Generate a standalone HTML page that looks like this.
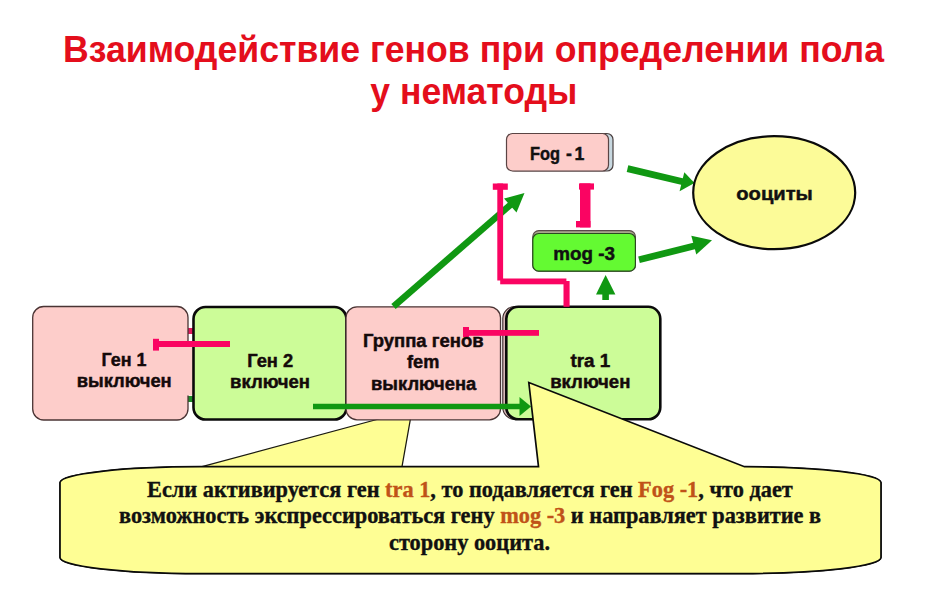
<!DOCTYPE html>
<html><head><meta charset="utf-8">
<style>
html,body{margin:0;padding:0;background:#fff;width:932px;height:600px;overflow:hidden}
svg{display:block}
.t{font-family:"Liberation Sans",sans-serif;font-weight:bold}
.s{font-family:"Liberation Serif",serif;font-weight:bold}
</style></head><body>
<svg width="932" height="600" viewBox="0 0 932 600">
<rect width="932" height="600" fill="#fff"/>
<!-- title -->
<text class="t" x="63" y="61.5" font-size="37" fill="#e40e1c" textLength="821" lengthAdjust="spacingAndGlyphs">Взаимодействие генов при определении пола</text>
<text class="t" x="370.3" y="104.2" font-size="37" fill="#e40e1c" textLength="207" lengthAdjust="spacingAndGlyphs">у нематоды</text>

<!-- hidden connectors between box1 & box2 -->
<rect x="185" y="328" width="10" height="6" fill="#e01a5e"/>
<rect x="185" y="396" width="10" height="6" fill="#1e8a2a"/>

<!-- callout 1 (pointer to box 3) -->
<path d="M60,482.5 A140,16 0 0 1 200,466.7 L202,466.7 L412,410 L402,466.7 L740,466.7 A140,16 0 0 1 881,482.5 L881,557.5 A140,16 0 0 1 741,573.6 L200,573.6 A140,16 0 0 1 60,557.5 Z" fill="#fefe94" stroke="#1a1a10" stroke-width="1.25"/>

<!-- box 1 -->
<rect x="32.7" y="306.5" width="155.3" height="113.5" rx="11" ry="11" fill="#fdcdca" stroke="#4a3434" stroke-width="1.3"/>
<rect x="186" y="347" width="8" height="48.5" fill="#fdcdca"/>
<!-- box 2 -->
<rect x="193.5" y="307" width="152.9" height="112.5" rx="12" ry="12" fill="#ccfc98" stroke="#0a0a0a" stroke-width="2.6"/>
<!-- box 3 -->
<rect x="346" y="306.8" width="154.5" height="113" rx="11" ry="11" fill="#fdcdca" stroke="#4a3434" stroke-width="1.3"/>
<!-- box 4 shadow + box -->
<rect x="502.8" y="306.5" width="154" height="113" rx="12" ry="12" fill="#d8b8b8" stroke="#3a2a2a" stroke-width="1.1"/>
<rect x="506.3" y="306.8" width="154" height="112.5" rx="12" ry="12" fill="#ccfc98" stroke="#0a0a0a" stroke-width="2.6"/>

<!-- green arrow along bottom of boxes -->
<line x1="313" y1="406.5" x2="522" y2="406.5" stroke="#109812" stroke-width="5.6"/>
<polygon points="519.5,397 531,406.5 519.5,416" fill="#109812"/>

<!-- pink inhibitors on boxes -->
<rect x="153" y="341" width="77" height="6" fill="#fa0462"/>
<rect x="153" y="338.8" width="6" height="11.8" fill="#fa0462"/>
<rect x="463" y="330" width="76" height="5.8" fill="#fa0462"/>
<rect x="463" y="327" width="6" height="10" fill="#fa0462"/>

<!-- box texts -->
<g class="t" font-size="18" fill="#140a0a" stroke="#140a0a" stroke-width="0.45">
<text x="101.6" y="365.8" textLength="45" lengthAdjust="spacingAndGlyphs">Ген 1</text>
<text x="76.7" y="387.4" textLength="95" lengthAdjust="spacingAndGlyphs">выключен</text>
<text x="247.2" y="366.5" textLength="46" lengthAdjust="spacingAndGlyphs">Ген 2</text>
<text x="230" y="388" textLength="80" lengthAdjust="spacingAndGlyphs">включен</text>
<text x="362.9" y="347.2" textLength="120.7" lengthAdjust="spacingAndGlyphs">Группа генов</text>
<text x="407" y="368.4" textLength="32.3" lengthAdjust="spacingAndGlyphs">fem</text>
<text x="371" y="390.3" textLength="105.3" lengthAdjust="spacingAndGlyphs">выключена</text>
<text x="570.4" y="366.5" textLength="39.8" lengthAdjust="spacingAndGlyphs">tra 1</text>
<text x="550.2" y="388" textLength="80.2" lengthAdjust="spacingAndGlyphs">включен</text>
</g>

<!-- callout 2 (pointer to box 4) -->
<path d="M60,482.5 A140,16 0 0 1 200,466.7 L538.5,466.7 L528.8,382.5 L744.5,466.7 A136,16 0 0 1 881,482.5 L881,557.5 A140,16 0 0 1 741,573.6 L200,573.6 A140,16 0 0 1 60,557.5 Z" fill="#fefe94" stroke="#0a0a0a" stroke-width="1.7"/>

<!-- callout text -->
<g class="s" font-size="22.33" fill="#111" stroke="#111" stroke-width="0.35">
<text x="147" y="496.5">Если активируется ген <tspan fill="#c05218" stroke="#c05218">tra 1</tspan>, то подавляется ген <tspan fill="#c05218" stroke="#c05218">Fog -1</tspan>, что дает</text>
<text x="119" y="523.4">возможность экспрессироваться гену <tspan fill="#c05218" stroke="#c05218">mog -3</tspan> и направляет развитие в</text>
<text x="389" y="550.2">сторону ооцита.</text>
</g>

<!-- arrow from box 3 up to Fog-1 -->
<line x1="393.5" y1="306.4" x2="512" y2="203.5" stroke="#109812" stroke-width="6.6"/>
<polygon points="524.5,193 504,198.5 516.5,212.5" fill="#109812"/>

<!-- pink path from box4 top to Fog-1 -->
<rect x="497.3" y="183.5" width="5.8" height="97" fill="#fa0462"/>
<rect x="500.2" y="278.5" width="66.2" height="5.8" fill="#fa0462"/>
<rect x="563.5" y="281" width="6.1" height="25.8" fill="#fa0462"/>
<rect x="492.8" y="183.5" width="15" height="6.3" fill="#fa0462"/>

<!-- Fog-1 box -->
<rect x="509" y="133.5" width="104" height="37.5" rx="6" ry="6" fill="#c8d8e0" stroke="#4a4040" stroke-width="1.2"/>
<rect x="506.5" y="133.5" width="102" height="37.5" rx="6" ry="6" fill="#fdcdca" stroke="#5a4444" stroke-width="1.2"/>
<g class="t" font-size="17.7" fill="#111" stroke="#111" stroke-width="0.45">
<text x="530" y="159.5" textLength="30" lengthAdjust="spacingAndGlyphs">Fog</text>
<text x="566" y="159.5">-</text>
<text x="574.5" y="159.5">1</text>
</g>

<!-- pink inhibitor from mog-3 to Fog-1 -->
<rect x="580" y="183.4" width="10.5" height="44" fill="#fa0462"/>
<rect x="579" y="183.4" width="15" height="6.2" fill="#fa0462"/>
<rect x="576" y="221" width="14.5" height="6.4" fill="#fa0462"/>

<!-- mog-3 box -->
<rect x="532.8" y="230.6" width="102.6" height="40.6" rx="6" ry="6" fill="#a8a88c" stroke="#5a4a4a" stroke-width="1.1"/>
<rect x="532.8" y="233.5" width="102.6" height="37.7" rx="6" ry="6" fill="#64fa32" stroke="#2a4a20" stroke-width="1.2"/>
<text class="t" x="553.3" y="259.6" font-size="18" fill="#111" stroke="#111" stroke-width="0.45" textLength="61.7" lengthAdjust="spacingAndGlyphs">mog -3</text>

<!-- green up arrow tra1 -> mog-3 -->
<rect x="602.3" y="293" width="6.6" height="7" fill="#109812"/>
<polygon points="605.6,275 615.4,294.4 596,294.4" fill="#109812"/>

<!-- arrows to oocytes -->
<line x1="627.5" y1="168.6" x2="685" y2="182.3" stroke="#109812" stroke-width="6.8"/>
<polygon points="694.5,183 684.3,172.2 679.6,191.3" fill="#109812"/>
<line x1="639" y1="259.8" x2="700" y2="244.5" stroke="#109812" stroke-width="6.8"/>
<polygon points="712,240.3 691.3,235.8 696.3,254.6" fill="#109812"/>

<!-- oocytes ellipse -->
<ellipse cx="774.2" cy="192.7" rx="81" ry="56.5" fill="#fcfb98" stroke="#0a0a0a" stroke-width="2.2"/>
<text class="t" x="736.3" y="199.9" font-size="19" fill="#111" stroke="#111" stroke-width="0.45" textLength="76.5" lengthAdjust="spacingAndGlyphs">ооциты</text>
</svg>
</body></html>
